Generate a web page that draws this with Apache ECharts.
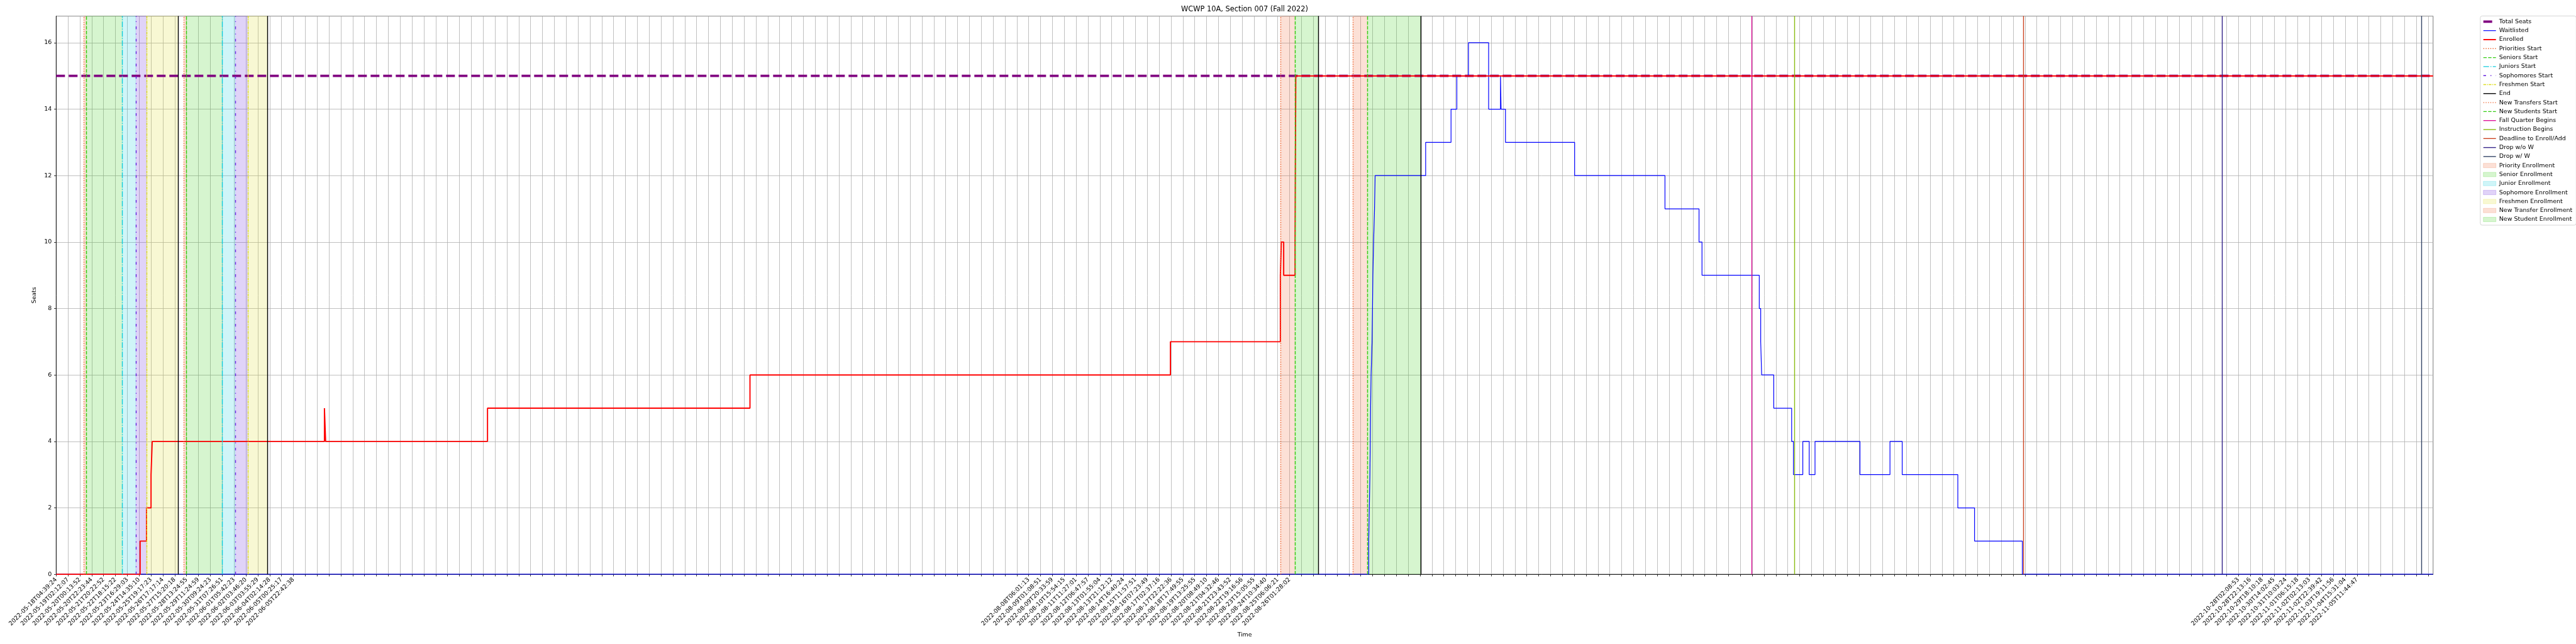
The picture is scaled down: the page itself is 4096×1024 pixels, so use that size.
<!DOCTYPE html>
<html><head><meta charset="utf-8">
<script src="https://cdn.jsdelivr.net/npm/echarts@6/dist/echarts.min.js"></script>
<style>html,body{margin:0;padding:0;background:#fff}#chart{width:4096px;height:1024px}</style>
</head><body><div id="chart"></div>
<script>
// ---------- data (x in units of the axis tick index; ticks are labelled with sample timestamps) ----------
const tickLabels = [
"2022-05-18T04:39:24","2022-05-19T02:12:07","2022-05-20T00:13:52","2022-05-20T22:23:44","2022-05-21T20:22:52",
"2022-05-22T18:15:22","2022-05-23T16:29:03","2022-05-24T14:35:10","2022-05-25T19:17:23","2022-05-26T17:17:14",
"2022-05-27T15:20:18","2022-05-28T13:24:55","2022-05-29T11:24:59","2022-05-30T09:24:23","2022-05-31T07:26:51",
"2022-06-01T05:42:23","2022-06-02T03:46:20","2022-06-03T03:55:29","2022-06-04T02:14:28","2022-06-05T00:25:17",
"2022-06-05T22:42:38","","","","","","","","","",
"","","","","","","","","","",
"","","","","","","","","","",
"","","","","","","","","","",
"","","","","","","","","","",
"","","","","","","","","","",
"","","2022-08-08T06:01:13","2022-08-09T01:08:51","2022-08-09T20:33:59","2022-08-10T15:54:15","2022-08-11T11:27:01","2022-08-12T06:47:57","2022-08-13T01:55:04","2022-08-13T21:12:12",
"2022-08-14T16:40:24","2022-08-15T11:57:51","2022-08-16T07:23:49","2022-08-17T02:37:16","2022-08-17T22:22:36",
"2022-08-18T17:49:55","2022-08-19T13:25:55","2022-08-20T08:49:10","2022-08-21T04:32:46","2022-08-21T23:43:52",
"2022-08-22T19:16:56","2022-08-23T15:05:55","2022-08-24T10:34:40","2022-08-25T06:06:21","2022-08-26T01:28:02",
"","","","","","","","","","",
"","","","","","","","","","",
"","","","","","","","","","",
"","","","","","","","","","",
"","","","","","","","","","",
"","","","","","","","","","",
"","","","","","","","","","",
"","","","","","","","","","2022-10-28T02:08:53",
"2022-10-28T22:13:16","2022-10-29T18:10:18","2022-10-30T14:02:45","2022-10-31T10:03:24","2022-11-01T06:15:18",
"2022-11-02T02:13:03","2022-11-02T22:39:42","2022-11-03T19:11:56","2022-11-04T15:31:04","2022-11-05T11:44:47"
];
const xMax = 200.41;

const totalSeatsX = [0, 200.41];
const totalSeatsY = [15, 15];

const enrolledX = [0, 7.08, 7.62, 8.0, 8.1, 22.62, 22.72, 36.37, 58.5, 93.95, 103.22, 103.30, 103.50, 104.46, 104.52, 200.41];
const enrolledY = [0, 1, 2, 3, 4, 5, 4, 5, 6, 7, 9, 10, 9, 10, 15, 15];

const waitlistedX = [0, 110.67, 110.72, 110.77, 110.80, 110.83, 110.87, 110.95, 110.99, 111.02, 111.08, 111.16, 111.21,
  115.47, 117.61, 118.10, 119.08, 120.78, 121.78, 121.83, 122.20, 128.03, 135.65, 138.52, 138.77, 143.60, 143.72, 143.80,
  144.82, 146.33, 146.48, 147.27, 147.81, 148.30, 152.09, 154.62, 155.65, 160.34, 161.75, 165.78, 200.41];
const waitlistedY = [0, 1, 2, 3, 4, 5, 6, 7, 8, 9, 10, 11, 12,
  13, 14, 15, 16, 14, 15, 14, 13, 12, 11, 10, 9, 8, 7, 6,
  5, 4, 3, 4, 3, 4, 3, 4, 3, 2, 1, 0, 0];

const prioritiesStart = [2.34, 10.77];
const seniorsStart = [2.52, 10.96];
const juniorsStart = [5.59, 14.02];
const sophomoresStart = [6.72, 15.11];
const freshmenStart = [7.63, 16.19];
const passEnd = [10.30, 17.82];
const newTransfersStart = [103.22, 109.33];
const newStudentsStart = [104.45, 110.56];
const newEnd = [106.43, 115.04];
const fallQuarterBegins = [142.96];
const instructionBegins = [146.56];
const deadlineEnrollAdd = [165.89];
const dropWithoutW = [182.62];
const dropWithW = [199.41];

const yTicks = [0, 2, 4, 6, 8, 10, 12, 14, 16];
const yMax = 16.8;

// ---------- styling ----------
const FONT = 'DejaVu Sans';
const C = {
  prio: '#EE6633', senior: '#33CC11', junior: '#11CCDD', soph: '#6622DD', fresh: '#DDDD22',
  fall: '#DD1199', instr: '#88BB11', deadline: '#CC4422', dropNoW: '#332288', dropW: '#334466'
};
function rgba(hex, a) {
  const n = parseInt(hex.slice(1), 16);
  return 'rgba(' + ((n >> 16) & 255) + ',' + ((n >> 8) & 255) + ',' + (n & 255) + ',' + a + ')';
}
const W = 1.4; // event line width
const DOT = [1.4, 2.3], DASH = [5.3, 2.3], DASHDOT = [9, 2.3, 1.4, 2.3], LOOSE = [4.3, 7, 1.4, 7], DENSE = [4.3, 1.4, 1.4, 1.4];

function pairs(xs, ys) { return xs.map((x, i) => [x, ys[i]]); }

function eventSeries(name, color, positions, type, width) {
  return {
    name, type: 'line', data: [], symbol: 'none', z: 3, silent: true,
    lineStyle: { color, width, type }, itemStyle: { color },
    markLine: {
      silent: true, symbol: ['none', 'none'], label: { show: false }, animation: false,
      emphasis: { disabled: true },
      lineStyle: { color, width, type, opacity: 1 },
      data: positions.map(p => ({ xAxis: p }))
    }
  };
}
function spanSeries(name, color, starts, ends) {
  return {
    name, type: 'line', data: [], symbol: 'none', z: 0, silent: true,
    lineStyle: { color, width: 0 }, itemStyle: { color },
    markArea: {
      silent: true, animation: false, emphasis: { disabled: true },
      itemStyle: { color: rgba(color, 0.2), borderColor: rgba(color, 0.2), borderWidth: 0.5 },
      data: starts.map((s, i) => [{ xAxis: s }, { xAxis: ends[i] }])
    }
  };
}

const endAll = passEnd.concat(newEnd);
const series = [
  spanSeries('Priority Enrollment', C.prio, prioritiesStart, seniorsStart),
  spanSeries('Senior Enrollment', C.senior, seniorsStart, juniorsStart),
  spanSeries('Junior Enrollment', C.junior, juniorsStart, sophomoresStart),
  spanSeries('Sophomore Enrollment', C.soph, sophomoresStart, freshmenStart),
  spanSeries('Freshmen Enrollment', C.fresh, freshmenStart, passEnd),
  spanSeries('New Transfer Enrollment', C.prio, newTransfersStart, newStudentsStart),
  spanSeries('New Student Enrollment', C.senior, newStudentsStart, newEnd),
  { name: 'Total Seats', type: 'line', data: pairs(totalSeatsX, totalSeatsY), symbol: 'none', z: 2, silent: true,
    lineStyle: { color: '#800080', width: 3.8, type: [14, 6] }, itemStyle: { color: '#800080' } },
  { name: 'Waitlisted', type: 'line', step: 'end', data: pairs(waitlistedX, waitlistedY), symbol: 'none', z: 2, silent: true,
    lineStyle: { color: '#0000FF', width: 1.2 }, itemStyle: { color: '#0000FF' } },
  { name: 'Enrolled', type: 'line', step: 'end', data: pairs(enrolledX, enrolledY), symbol: 'none', z: 2, silent: true,
    lineStyle: { color: '#FF0000', width: 1.9 }, itemStyle: { color: '#FF0000' } },
  eventSeries('Priorities Start', C.prio, prioritiesStart, DOT, W),
  eventSeries('Seniors Start', C.senior, seniorsStart, DASH, W),
  eventSeries('Juniors Start', C.junior, juniorsStart, DASHDOT, W),
  eventSeries('Sophomores Start', C.soph, sophomoresStart, LOOSE, W),
  eventSeries('Freshmen Start', C.fresh, freshmenStart, DENSE, W),
  eventSeries('End', '#000000', endAll, 'solid', W),
  eventSeries('New Transfers Start', C.prio, newTransfersStart, DOT, W),
  eventSeries('New Students Start', C.senior, newStudentsStart, DASH, W),
  eventSeries('Fall Quarter Begins', C.fall, fallQuarterBegins, 'solid', W),
  eventSeries('Instruction Begins', C.instr, instructionBegins, 'solid', W),
  eventSeries('Deadline to Enroll/Add', C.deadline, deadlineEnrollAdd, 'solid', W),
  eventSeries('Drop w/o W', C.dropNoW, dropWithoutW, 'solid', W),
  eventSeries('Drop w/ W', C.dropW, dropWithW, 'solid', W)
];

const HIDDEN = { color: 'rgba(0,0,0,0)', borderColor: 'rgba(0,0,0,0)', borderWidth: 0, opacity: 0 };
function lineItem(name, width) { return { name, lineStyle: { width }, itemStyle: HIDDEN }; }
function patchItem(name, color) {
  return { name, icon: 'rect', itemStyle: { color: rgba(color, 0.2), borderColor: rgba(color, 0.3), borderWidth: 0.7 } };
}
const legendData = [
  lineItem('Total Seats', 3.8), lineItem('Waitlisted', 1.2), lineItem('Enrolled', 1.9),
  lineItem('Priorities Start', W), lineItem('Seniors Start', W), lineItem('Juniors Start', W),
  lineItem('Sophomores Start', W), lineItem('Freshmen Start', W), lineItem('End', W),
  lineItem('New Transfers Start', W), lineItem('New Students Start', W), lineItem('Fall Quarter Begins', W),
  lineItem('Instruction Begins', W), lineItem('Deadline to Enroll/Add', W), lineItem('Drop w/o W', W),
  lineItem('Drop w/ W', W),
  patchItem('Priority Enrollment', C.prio), patchItem('Senior Enrollment', C.senior),
  patchItem('Junior Enrollment', C.junior), patchItem('Sophomore Enrollment', C.soph),
  patchItem('Freshmen Enrollment', C.fresh), patchItem('New Transfer Enrollment', C.prio),
  patchItem('New Student Enrollment', C.senior)
];

const isInt = v => Math.abs(v - Math.round(v)) < 1e-6;
const chart = echarts.init(document.getElementById('chart'), null, { renderer: 'canvas' });
chart.setOption({
  animation: false,
  backgroundColor: '#ffffff',
  textStyle: { fontFamily: FONT },
  graphic: [{
    type: 'text', x: 1979, y: 15.5, silent: true,
    style: { text: 'WCWP 10A, Section 007 (Fall 2022)', font: '11.4px "DejaVu Sans"', fill: '#000', align: 'center', verticalAlign: 'middle' }
  }],
  grid: { left: 89.3, right: 227.3, top: 25.6, bottom: 110.8, show: true, borderColor: '#000', borderWidth: 0.8, backgroundColor: 'transparent', containLabel: false },
  legend: {
    orient: 'vertical', left: 3943.8, top: 25.4, itemWidth: 20, itemHeight: 7, itemGap: 4.3,
    padding: [4, 6, 4, 3], borderColor: '#cccccc', borderWidth: 0.8, borderRadius: 3, backgroundColor: 'rgba(255,255,255,0.8)',
    textStyle: { fontFamily: FONT, fontSize: 9.5, color: '#000', lineHeight: 10 },
    data: legendData
  },
  xAxis: {
    type: 'value', min: 0, max: xMax, interval: 1, z: 1,
    name: 'Time', nameLocation: 'middle', nameGap: 89,
    nameTextStyle: { fontFamily: FONT, fontSize: 9.5, color: '#000' },
    axisLine: { show: true, onZero: false, lineStyle: { color: '#000', width: 0.8 } },
    axisTick: { show: true, length: 3.3, lineStyle: { color: '#000', width: 0.8 } },
    axisLabel: { rotate: 45, margin: 7, fontFamily: FONT, fontSize: 9.5, color: '#000',
      showMaxLabel: false, hideOverlap: false,
      formatter: v => (isInt(v) ? (tickLabels[Math.round(v)] || '') : '') },
    splitLine: { show: true, lineStyle: { color: '#b0b0b0', width: 0.8 } }
  },
  yAxis: {
    type: 'value', min: 0, max: yMax, interval: 2, z: 1,
    name: 'Seats', nameLocation: 'middle', nameGap: 23,
    nameTextStyle: { fontFamily: FONT, fontSize: 9.5, color: '#000' },
    axisLine: { show: true, lineStyle: { color: '#000', width: 0.8 } },
    axisTick: { show: true, length: 3.3, lineStyle: { color: '#000', width: 0.8 } },
    axisLabel: { margin: 7, fontFamily: FONT, fontSize: 9.5, color: '#000', showMaxLabel: false,
      formatter: v => (yTicks.indexOf(v) >= 0 ? String(v) : '') },
    splitLine: { show: true, lineStyle: { color: '#b0b0b0', width: 0.8 } }
  },
  series
});
</script></body></html>
